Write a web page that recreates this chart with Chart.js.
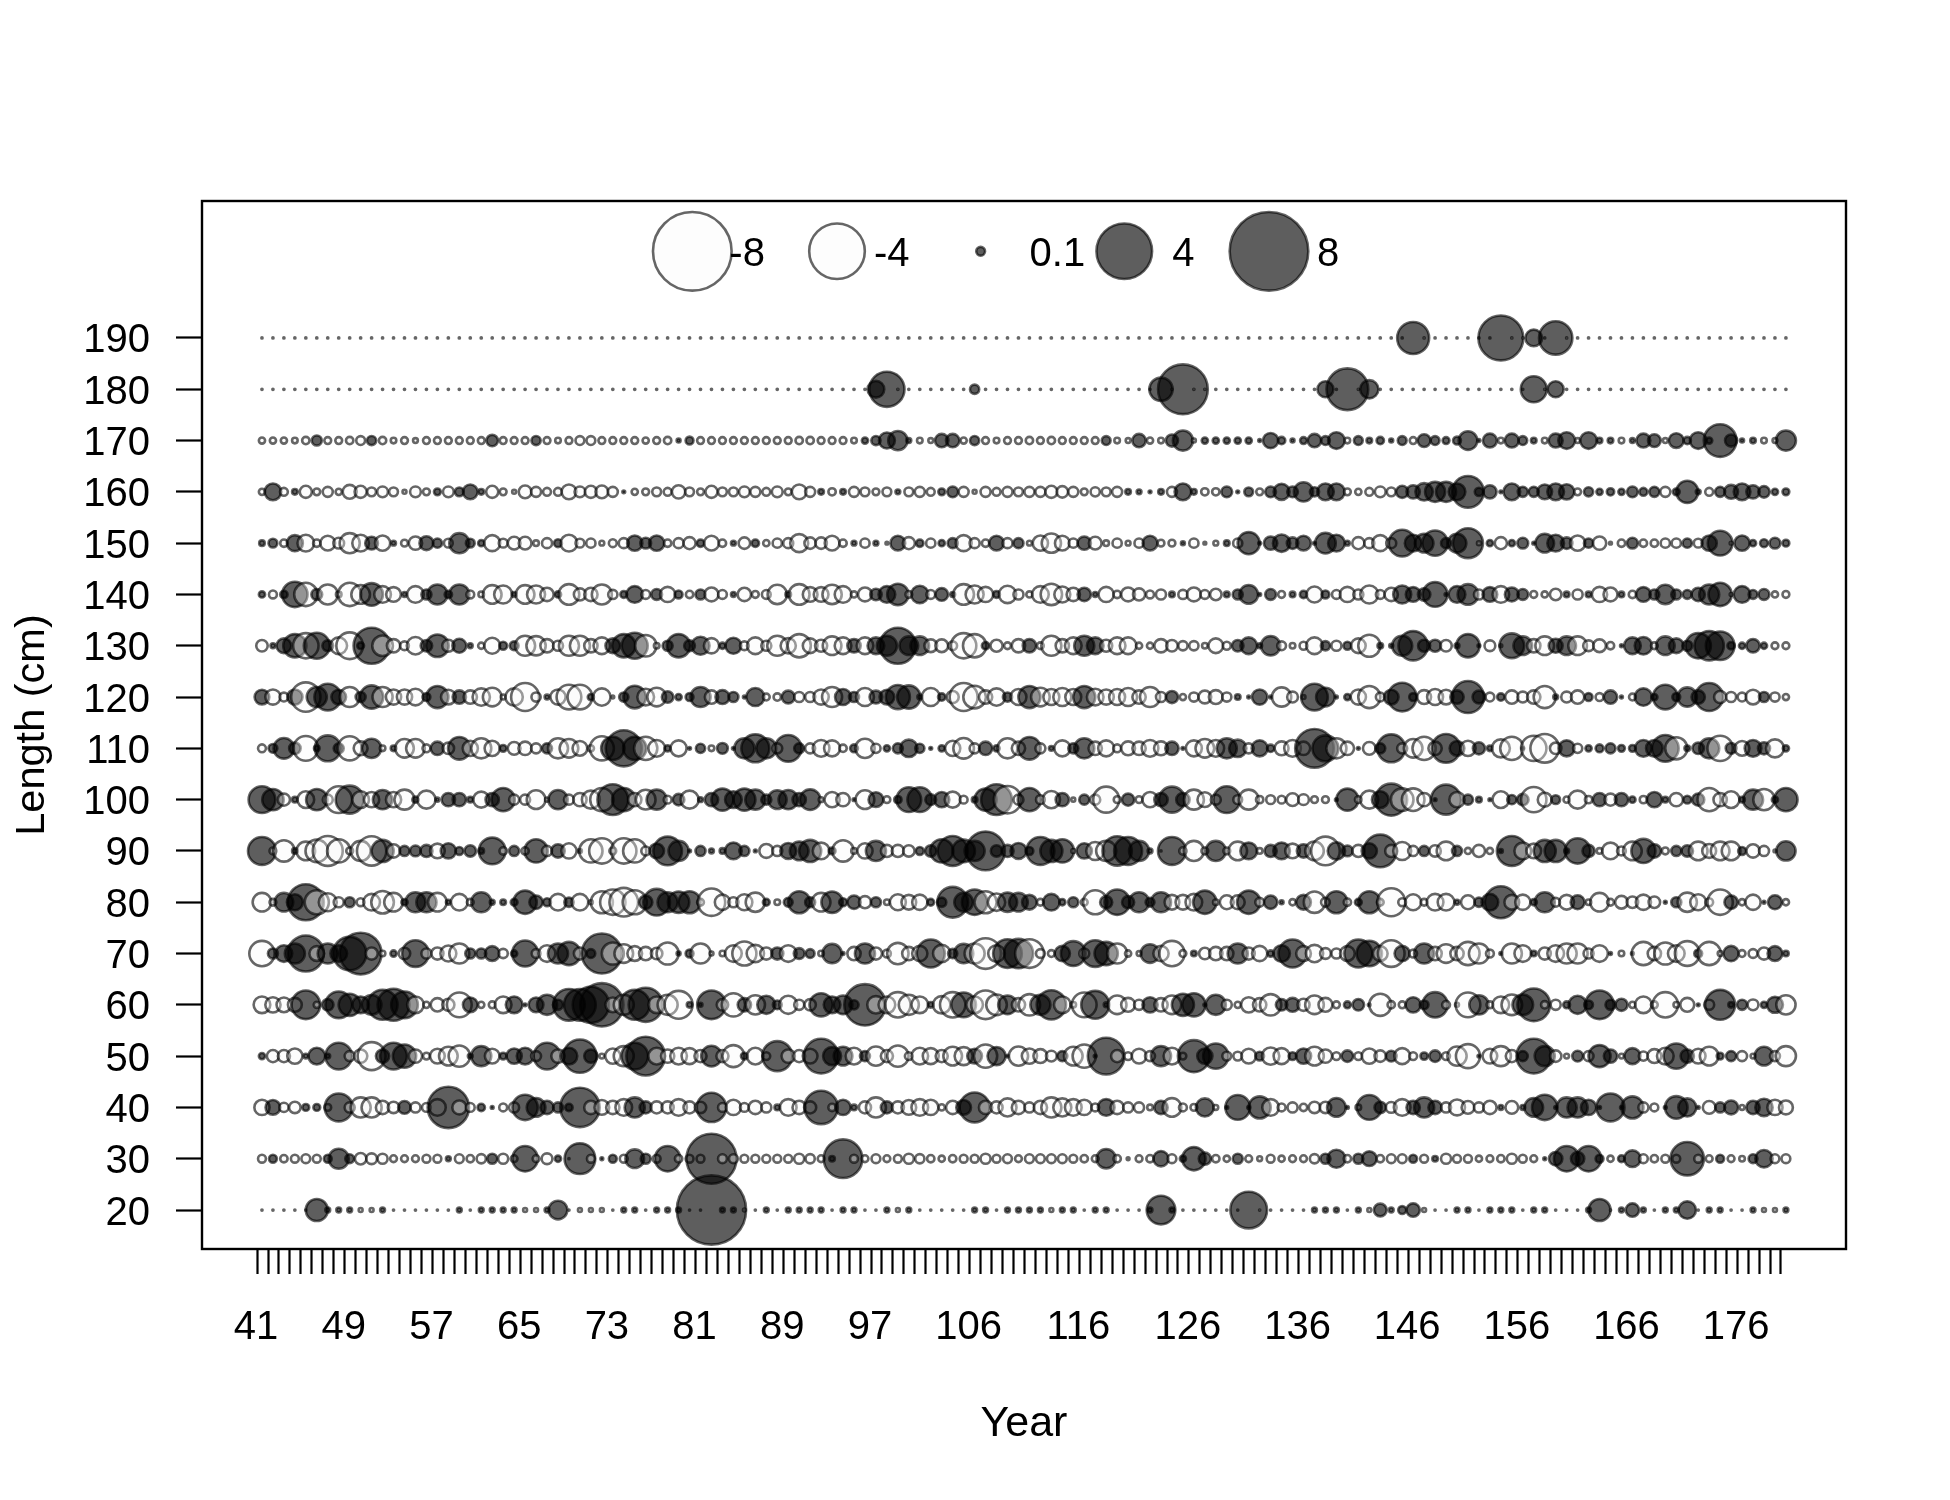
<!DOCTYPE html>
<html>
<head>
<meta charset="utf-8">
<title>Residuals by year and length</title>
<script src="https://cdn.jsdelivr.net/npm/chart.js@4"></script>
<style>
    html, body { margin: 0; padding: 0; background: #fff; }
    canvas { display: block; }
</style>
</head>
<body>
<canvas id="chart" width="1950" height="1500"></canvas>
<script>
const years = [41,42,43,44,45,46,47,48,49,50,51,52,53,54,55,56,57,58,59,60,61,62,63,64,65,66,67,68,69,70,
    71,72,73,74,75,76,77,78,79,80,81,82,83,84,85,86,87,88,89,90,91,92,93,94,95,96,97,98,99,100,
    101,102,103,104,105,106,107,108,109,110,111,112,113,114,115,116,117,118,119,120,121,122,123,124,125,126,127,128,129,130,
    131,132,133,134,135,136,137,138,139,140,141,142,143,144,145,146,147,148,149,150,151,152,153,154,155,156,157,158,159,160,
    161,162,163,164,165,166,167,168,169,170,171,172,173,174,175,176,177,178,179,180];
const yearLabels = [41,49,57,65,73,81,89,97,106,116,126,136,146,156,166,176];
const lengths = [20,30,40,50,60,70,80,90,100,110,120,130,140,150,160,170,180,190];

const len20 = [-.005,-.005,-.005,-.005,-.005,.63,.03,.03,.03,-.02,
    -.02,.03,-.005,-.005,-.005,-.005,-.005,-.005,.03,-.005,
    .03,.03,.03,.03,-.02,-.02,.03,.45,-.005,-.02,
    -.02,-.02,-.005,.03,.03,-.005,.03,.03,.03,-.005,
    -.005,6.2,.03,.03,-.01,-.005,.03,-.005,.03,.03,
    .03,.03,-.005,.03,.03,-.005,-.005,.03,-.02,.03,
    -.005,-.005,-.005,-.005,-.005,.03,.03,-.005,.03,.03,
    .03,.03,-.02,.03,.03,-.005,.03,.03,-.005,-.005,
    -.005,.03,1.06,.03,-.005,-.005,-.005,-.005,-.005,-.005,
    1.74,-.005,-.005,-.005,-.005,-.005,.03,.03,.03,-.005,
    .03,-.02,.21,.03,.08,.23,-.02,-.005,-.005,.03,
    .03,-.005,.03,.03,.03,-.005,.03,.03,-.005,-.005,
    -.005,.03,.63,-.005,.03,.23,.03,-.005,.03,.03,
    .39,-.005,.03,.03,-.005,-.005,.03,-.02,-.02,.03];
const len30 = [-.08,.08,-.07,-.08,-.1,-.08,.08,.52,.1,-.17,
    -.15,-.13,-.06,-.06,-.06,-.08,-.08,.03,-.1,-.07,
    -.11,.13,-.13,-.06,.83,-.06,-.15,.05,-.005,1.22,
    -.08,.01,.08,-.08,.45,.13,-.08,.83,-.07,-.08,
    -.08,3.23,-.1,-.1,-.08,-.08,-.08,-.08,-.08,-.13,
    -.11,-.06,.04,1.93,-.08,-.06,-.1,-.06,-.08,-.13,
    -.11,-.07,-.05,-.07,-.08,-.08,-.13,-.08,-.1,-.06,
    -.1,-.1,-.1,-.1,-.08,-.07,-.06,.48,-.07,-.01,
    -.06,-.07,.3,-.1,.05,.7,.19,-.07,-.05,.13,
    -.06,-.03,-.08,-.05,-.06,-.06,-.11,.13,.42,-.07,
    .13,.28,-.07,-.1,-.1,.08,-.08,.04,-.13,-.08,
    -.08,-.05,-.06,-.07,-.13,-.08,-.06,.01,.23,.83,
    .23,.83,.08,-.05,.06,.36,-.1,-.07,-.08,-.08,
    1.44,-.08,-.06,.08,-.06,-.04,.1,.39,-.1,-.1];
const len40 = [-.3,.28,-.11,-.17,.06,.06,-.06,1.01,-.13,-.52,
    -.52,-.23,-.17,.21,-.13,-.1,-.36,2.21,-.25,-.1,
    .07,.01,-.08,-.13,.83,.45,.23,.13,.07,2.0,
    -.23,-.28,-.23,-.36,.52,.19,-.19,-.19,-.36,-.19,
    -.17,1.11,-.1,-.3,-.1,-.23,-.13,.04,-.36,-.23,
    -.19,1.44,-.07,.3,.04,-.19,-.52,.19,-.19,-.28,
    -.36,-.3,-.05,-.23,.28,1.16,-.23,-.19,-.42,-.23,
    -.13,-.23,-.52,-.42,-.36,-.3,-.08,.36,-.23,-.13,
    -.13,-.04,.23,-.45,-.08,-.06,.42,-.03,.01,.79,
    .01,.63,-.36,-.08,-.13,-.07,-.17,-.17,.45,.01,
    -.04,.79,.17,-.15,-.36,.23,.52,.23,-.13,-.33,
    -.21,-.13,-.23,.03,-.21,.03,.45,.83,.01,.52,
    .52,.3,.01,1.01,.01,.63,-.13,-.08,.01,.66,
    .42,.01,-.21,.13,.25,-.03,.23,.39,-.3,-.25];
const len50 = [.05,-.19,-.19,-.3,.03,.36,.03,.92,-.13,-.23,
    -1.01,.23,.92,.7,-.23,-.06,-.28,-.45,-.59,.03,
    .52,-.28,.06,.3,.36,-.13,.92,-.23,.36,1.44,
    .23,-.03,-.3,-.52,.92,1.93,-.36,-.23,-.36,-.33,
    -.19,.55,-.19,-.63,.06,-.36,-.08,1.16,-.23,-.19,
    -.28,1.55,.42,.45,-.36,.13,-.48,-.19,-.59,-.08,
    -.36,-.33,-.19,-.45,-.42,.28,-.7,.42,.01,-.48,
    -.3,-.25,-.15,.13,-.45,-.7,.01,1.74,-.19,-.08,
    -.28,-.13,.52,-.36,-.06,1.32,.3,.83,-.1,-.1,
    -.28,.1,-.39,-.33,.08,.3,-.45,-.23,-.08,.17,
    -.08,-.3,-.17,.15,-.33,-.08,.07,.17,-.08,-.48,
    -.75,.01,-.28,-.52,-.19,.13,1.55,.52,-.17,-.03,
    .15,-.13,.63,.23,-.03,.33,-.11,-.25,-.36,.83,
    .23,-.28,-.45,.06,.13,-.13,-.03,.45,-.13,-.52];
const len60 = [-.36,-.3,-.28,-.25,1.06,-.05,.17,.92,.63,.36,
    .5,1.16,1.32,.92,-.36,-.05,-.23,-.19,-.79,.28,
    -.05,-.06,-.36,.36,.01,.28,.52,.13,1.3,1.3,
    1.7,2.43,-.28,-.52,1.16,1.5,-.36,-.52,-1.01,.04,
    .02,1.06,-.17,-.7,.23,-.48,.42,.1,-.42,-.13,
    -.17,.7,.36,.45,.11,2.21,-.39,-.36,-.83,-.52,
    -.36,.04,-.39,-.83,.79,-.36,-1.06,-.55,.45,-.23,
    -.59,.52,1.11,-.36,-.04,-.79,1.01,.03,-.45,-.25,
    -.13,.3,-.23,-.45,.63,.7,.01,.52,-.13,-.05,
    -.3,-.23,-.59,.17,.25,-.19,-.45,-.25,-.06,.06,
    .17,.01,-.63,-.07,-.06,.3,.1,.83,-.08,-.02,
    -.79,.48,-.06,-.36,-.55,.55,1.38,-.07,-.13,.06,
    .42,.1,1.06,.13,.19,-.05,-.36,-.06,-.83,-.04,
    -.25,.01,-.13,1.16,.04,.13,-.15,.05,.33,-.48];
const len70 = [-.83,.13,.36,.52,1.68,-.28,.52,.36,1.44,2.25,
    -.19,-.04,.05,-.17,.92,-.13,-.19,-.33,-.52,.13,
    .13,.28,-.11,.05,.87,-.1,-.36,.52,.7,-.19,
    .1,2.07,-.63,-.45,-.28,-.23,-.17,-.63,.02,.08,
    -.52,-.02,-.04,-.36,-.75,-.39,-.19,.19,-.36,.15,
    .1,-.04,.48,.01,-.23,.52,-.19,-.08,-.59,-.23,
    -.3,1.01,-.39,.11,.48,-.52,-1.22,-.36,1.06,1.11,
    -1.06,-.1,-.06,.3,.79,-.13,.92,.7,-.52,-.05,
    -.03,.45,-.3,-.83,-.06,.04,-.17,-.23,-.23,.52,
    -.19,-.3,.05,.36,1.01,-.28,-.39,-.15,-.13,-.28,
    1.01,.83,-.28,-.92,.3,-.08,.52,-.23,-.45,-.23,
    -.7,-.52,-.08,.01,-.52,-.36,.04,-.19,-.36,-.52,
    -.52,-.13,-.36,.01,-.04,.01,-.7,-.23,-.63,-.36,
    -.79,.08,-.7,-.03,.3,-.06,-.1,-.19,.28,.04];
const len80 = [-.45,-.06,.45,.33,1.68,-.75,-.42,-.13,.13,-.08,
    -.36,-.66,-.45,.05,.52,.52,-.45,.03,-.36,-.06,
    .52,.03,.04,.06,.7,.23,.08,-.36,.11,-.36,
    -.02,-.63,-.83,-1.06,-.75,.23,.92,.52,.59,.63,
    -.06,-.97,-.3,-.13,-.33,-.48,.06,-.04,.1,.63,
    .13,-.45,.59,.08,.23,-.19,.13,-.04,-.33,-.28,
    -.3,.06,.11,1.22,.45,.83,-.63,-.39,.48,.45,
    .28,-.06,.36,.05,.13,-.06,-.75,.19,.83,.19,
    .52,.1,.52,-.28,-.28,-.36,.7,-.04,-.25,-.25,
    .7,-.1,.23,.02,-.05,.28,-.59,-.1,.63,-.07,
    .06,.63,-.06,-1.01,-.08,-.33,-.06,-.36,-.36,.03,
    -.25,.11,.36,1.32,-.28,-.3,.05,.52,-.1,-.28,
    .25,-.04,-.45,-.06,-.21,-.17,-.3,-.17,.01,.13,
    -.48,-.33,-.08,-.83,.23,-.05,-.3,.01,.25,-.05];
const len90 = [1.01,-.06,-.59,.04,-.45,-.66,-1.16,-.7,-.06,-.52,
    -1.11,.63,-.23,.13,.15,.19,-.28,.3,.08,.17,
    .04,.92,-.07,.13,-.07,.7,-.13,.23,-.3,.02,
    -.7,-.83,-.06,-.83,-.7,-.1,.28,1.06,.52,.01,
    .13,.03,.04,.36,.13,.01,-.25,-.13,.33,.45,
    .63,-.36,.06,-.59,-.04,-.3,.52,-.19,-.19,-.17,
    .08,.17,.7,1.16,.66,.52,1.93,.17,.19,.33,
    .08,1.01,.63,.7,-.02,.3,-.42,-.52,1.11,1.01,
    .52,.03,-.005,1.01,-.07,-.52,-.06,.52,-.06,-.45,
    .36,-.04,.19,.36,-.28,.23,-.45,-1.06,.39,.15,
    -.19,.3,1.38,-.19,-.42,-.13,.13,-.17,-.45,.13,
    -.05,-.19,-.05,.02,1.16,-.36,-.28,.63,.63,.03,
    .83,.19,-.04,-.36,-.1,-.45,.75,.23,-.06,.13,
    .17,-.45,-.25,-.45,-.45,.08,-.23,-.13,-.01,.48];
const len100 = [.92,.59,-.19,.04,-.36,.59,-.13,-.92,1.01,-.36,
    -.3,.48,-.3,-.52,.05,-.42,.02,.23,.23,.04,
    -.33,.23,.7,-.13,-.13,-.45,-.02,.48,-.13,-.23,
    -.42,-.7,1.22,.7,-.23,-.5,.52,-.08,.17,-.42,
    .03,.23,.63,.36,.63,.52,.13,.45,.48,.23,
    .55,-.03,-.3,-.23,.01,-.45,.28,-.06,.07,.79,
    .79,.15,.3,-.33,-.08,.04,.63,1.22,-.97,-.13,
    .7,-.1,-.39,.23,-.02,.13,-.13,-.87,-.06,.19,
    -.06,-.3,.23,.87,.23,-.52,-.28,-.13,.92,-.1,
    -.52,-.07,-.1,-.08,-.21,-.15,-.06,-.06,.01,.63,
    -.06,-.42,.36,1.32,-.66,-.66,-.23,.01,1.16,-.3,
    .13,.04,.01,-.36,.11,.17,-.83,-.25,.1,-.05,
    -.42,-.07,.23,-.19,.23,.05,-.07,.3,.04,-.23,
    .08,.19,-.7,-.23,-.36,.04,.52,-.59,.05,.7];
const len110 = [-.08,.1,.55,.17,-.79,.04,.87,.13,-.75,-.25,
    .48,-.04,.04,-.45,-.45,-.08,.23,-.17,.66,-.3,
    -.52,-.3,.06,-.21,-.23,-.13,.13,-.52,-.45,-.28,
    -.05,-.75,.7,1.68,.7,-.7,-.36,.05,-.33,.01,
    .11,-.04,.15,.01,.52,1.01,.52,-.13,.92,.13,
    -.13,-.36,-.33,-.07,.08,-.48,-.11,.05,.13,.39,
    .11,.01,.05,-.3,-.55,-.13,.23,.05,-.52,-.23,
    .66,-.13,.03,-.33,.13,.52,-.23,-.33,-.08,-.25,
    -.23,-.36,-.25,.23,.01,-.33,-.45,-.36,.52,.39,
    -.13,.33,.07,-.25,-.36,-.23,1.93,.87,-.52,-.23,
    .01,-.21,.13,1.01,-.13,-.45,-.7,-.23,1.06,.28,
    -.3,.19,.04,-.42,-.7,.01,-.83,-1.06,-.17,.33,
    -.11,.05,.08,.13,.06,.06,.36,.36,.92,-.63,
    .04,.17,.52,-.83,.15,-.28,.36,.19,-.42,.05];
const len120 = [.28,-.3,-.1,.3,-1.11,.52,.92,.28,-.52,.13,
    .7,-.52,-.3,-.3,-.36,.08,.63,-.28,.23,-.23,
    -.39,-.45,-.03,-.39,-1.01,-.11,.03,-.3,-.79,-.79,
    .05,-.39,-.01,.11,.66,-.36,-.45,.17,.05,.08,
    .52,-.23,.25,.13,.01,.42,-.06,-.07,.21,-.13,
    -.13,-.3,-.52,.33,.13,-.42,.21,.28,.75,.7,
    .03,-.42,.07,-.19,-1.01,-.66,-.23,-.39,.11,-.33,
    .63,-.45,-.33,-.42,-.33,.63,-.36,-.3,-.33,-.42,
    -.23,-.52,-.13,.19,-.05,-.11,-.21,-.25,-.11,.04,
    .01,.3,.01,-.48,-.15,-.02,.92,.45,.01,.05,
    -.3,-.63,-.1,.28,1.06,.08,-.25,-.33,-.28,.23,
    1.32,.21,-.1,.07,-.23,-.15,-.23,-.63,.03,-.15,
    -.23,.08,-.08,.23,.01,-.06,.39,.05,.79,.08,
    .48,.23,1.01,-.19,-.13,-.1,-.28,.13,-.11,-.05];
const len130 = [-.17,.03,.28,.7,-.83,.87,.15,-.36,-.92,.06,
    1.68,-.55,-.23,-.1,-.39,.17,.66,-.19,.25,.03,
    -.05,-.33,.08,.1,-.52,-.48,-.23,-.13,-.52,-.52,
    -.23,-.36,.28,.7,.87,-.6,-.04,.13,.7,.15,
    .42,-.3,.05,.33,-.1,-.36,-.13,-.52,-.3,-.7,
    -.28,-.19,-.45,-.36,.23,-.36,.36,.52,1.68,.45,
    .45,-.21,-.21,-.1,-.83,-.7,.07,-.19,-.06,-.23,
    .23,-.06,-.52,-.23,-.36,.52,.36,-.19,-.36,-.36,
    -.05,-.05,-.23,-.17,-.11,-.11,-.04,-.28,-.08,.17,
    .36,.03,.48,-.1,-.04,-.08,-.36,.11,-.13,.08,
    -.28,-.63,.04,.02,.52,1.11,.19,.19,-.17,.03,
    .7,.01,-.15,-.01,.79,.45,-.23,-.45,.25,.45,
    -.45,-.15,-.21,-.07,.01,.36,.39,-.06,.45,.28,
    .13,.83,1.11,1.06,.07,.05,.23,.05,-.06,-.06];
const len140 = [.05,-.08,.07,.83,-.7,.15,-.52,-.04,-.7,-.45,
    .66,-.36,-.28,.03,-.36,.13,.52,.07,.52,-.08,
    -.04,-.45,-.42,.03,-.45,-.42,-.23,.05,-.55,-.19,
    -.23,-.52,-.11,.06,.36,-.1,.15,-.3,.08,-.07,
    .13,-.25,-.1,.03,-.23,-.06,-.1,-.48,.04,-.55,
    -.28,-.28,-.48,-.36,-.05,-.25,.17,.36,.59,-.06,
    .39,-.1,.21,.03,-.55,-.42,-.3,.06,-.39,-.13,
    -.05,-.36,-.59,-.33,-.23,.23,.03,-.3,-.07,-.25,
    -.19,-.08,-.13,.04,-.11,-.25,-.1,-.17,.04,.13,
    .45,.01,.15,-.06,.04,.07,-.33,.08,-.1,-.3,
    -.13,-.42,-.1,-.23,.42,.28,.2,.79,.01,.36,
    .55,-.13,.28,-.36,.25,.15,-.06,-.05,-.17,.04,
    -.13,.04,-.3,-.25,.04,-.07,.28,.13,.48,.13,
    .1,.23,.52,.7,-.01,.36,.1,.15,-.05,-.06];
const len150 = [.04,.1,-.07,.33,-.36,-.07,-.28,-.15,-.52,-.36,
    .21,-.3,.03,-.06,-.23,.25,.11,-.1,.52,.1,
    .05,-.33,-.1,-.21,-.21,-.04,-.13,.08,-.36,-.1,
    -.11,-.03,-.08,-.13,.3,.15,.3,-.07,-.13,-.19,
    .07,-.28,-.07,.03,-.17,.07,-.05,-.11,-.13,-.42,
    -.17,-.17,-.28,-.07,.03,-.11,.03,-.01,.28,-.19,
    .07,-.11,.05,.13,-.33,-.13,-.07,.28,-.13,.13,
    -.03,-.3,-.48,-.28,-.11,.23,-.21,-.04,-.11,-.03,
    -.11,.28,-.06,-.06,.02,-.11,-.01,-.03,.04,-.11,
    .63,.01,.23,.39,.17,.28,.01,.55,.36,.03,
    -.19,-.13,-.33,-.13,.92,.36,.45,.83,.13,.45,
    1.16,-.02,.05,-.19,.05,.15,.01,.45,.36,.17,
    -.3,.11,-.23,-.01,-.07,.15,-.07,-.07,-.11,-.11,
    .11,-.1,.3,.79,-.01,.3,.05,.08,.15,.06];
const len160 = [-.05,.36,-.08,.04,-.19,-.06,-.13,-.05,-.25,-.19,
    -.1,-.15,-.1,-.02,-.15,-.06,.06,-.15,.1,.28,
    .04,-.19,-.06,-.02,-.21,-.13,-.08,-.08,-.28,-.15,
    -.19,-.21,-.13,.01,-.05,-.06,-.1,-.08,-.23,-.1,
    -.06,-.19,-.1,-.1,-.15,-.13,-.08,-.15,-.06,-.28,
    -.13,.04,-.07,.04,-.13,-.1,-.06,-.1,.03,-.1,
    -.13,-.08,.06,.15,-.13,-.02,-.13,-.08,-.13,-.1,
    -.13,-.13,-.19,-.17,-.13,-.06,-.11,-.1,-.13,.04,
    .03,.01,.04,-.13,.36,.04,-.07,-.07,.15,.01,
    .1,-.06,.15,.33,.15,.48,.11,.36,.36,-.06,
    -.05,-.08,-.15,-.1,.19,.23,.39,.52,.52,.36,
    1.3,.09,.23,.01,.36,.13,.13,.28,.36,.3,
    -.06,.11,.05,.07,.05,.15,.08,.13,-.13,.06,
    .63,.03,-.08,.13,.25,.36,.23,.17,.05,.06];
const len170 = [-.05,-.05,-.05,-.04,-.07,.13,-.06,-.06,-.07,-.1,
    .11,-.07,-.04,-.06,-.03,-.06,-.06,-.06,-.06,-.06,
    -.06,.17,-.06,-.06,-.06,.11,-.06,-.04,-.06,-.1,
    -.1,-.06,-.06,-.06,-.06,-.05,-.06,-.07,.02,.08,
    -.06,-.06,-.06,-.06,-.06,-.06,-.06,-.06,-.06,-.07,
    -.07,-.06,-.06,-.06,-.04,.05,.11,.33,.48,.03,
    -.04,-.03,.23,.23,-.05,.11,-.06,-.04,-.06,-.06,
    -.07,-.06,-.07,-.06,-.06,-.06,-.06,.1,-.04,-.03,
    .23,-.05,-.04,.19,.52,-.02,.05,.05,.05,.05,
    .05,.01,.3,.07,.02,.06,.23,.1,.36,-.04,
    .1,.04,.07,.02,.1,-.06,.21,.1,.06,.08,
    .45,.01,.25,-.04,.25,.1,.04,-.04,.25,.36,
    -.03,.36,.04,.04,-.04,.03,.25,.21,-.03,.28,
    .07,.36,.05,1.38,.19,.02,.04,-.04,-.03,.52];
const len180 = [-.005,-.005,-.005,-.005,-.005,-.005,-.005,-.005,-.005,-.005,
    -.005,-.005,-.005,-.005,-.005,-.005,-.005,-.005,-.005,-.005,
    -.005,-.005,-.005,-.005,-.005,-.005,-.005,-.005,-.005,-.005,
    -.005,-.005,-.005,-.005,-.005,-.005,-.005,-.005,-.005,-.005,
    -.005,-.005,-.005,-.005,-.005,-.005,-.005,-.005,-.005,-.005,
    -.005,-.005,-.005,-.005,-.005,-.005,.36,1.6,-.005,-.005,
    -.005,-.005,-.005,-.005,-.005,.11,-.005,-.005,-.005,-.005,
    -.005,-.005,-.005,-.005,-.005,-.005,-.005,-.005,-.005,-.005,
    -.005,-.005,.7,-.005,3.2,-.005,-.005,-.005,-.005,-.005,
    -.005,-.005,-.005,-.005,-.005,-.005,-.005,.33,-.005,2.25,
    -.005,.43,-.005,-.005,-.005,-.005,-.005,-.005,-.005,-.005,
    -.005,-.005,-.005,-.005,-.005,-.005,.87,-.005,.33,-.005,
    -.005,-.005,-.005,-.005,-.005,-.005,-.005,-.005,-.005,-.005,
    -.005,-.005,-.005,-.005,-.005,-.005,-.005,-.005,-.005,-.005];
const len190 = [-.005,-.005,-.005,-.005,-.005,-.005,-.005,-.005,-.005,-.005,
    -.005,-.005,-.005,-.005,-.005,-.005,-.005,-.005,-.005,-.005,
    -.005,-.005,-.005,-.005,-.005,-.005,-.005,-.005,-.005,-.005,
    -.005,-.005,-.005,-.005,-.005,-.005,-.005,-.005,-.005,-.005,
    -.005,-.005,-.005,-.005,-.005,-.005,-.005,-.005,-.005,-.005,
    -.005,-.005,-.005,-.005,-.005,-.005,-.005,-.005,-.005,-.005,
    -.005,-.005,-.005,-.005,-.005,-.005,-.005,-.005,-.005,-.005,
    -.005,-.005,-.005,-.005,-.005,-.005,-.005,-.005,-.005,-.005,
    -.005,-.005,-.005,-.005,-.005,-.005,-.005,-.005,-.005,-.005,
    -.005,-.005,-.005,-.005,-.005,-.005,-.005,-.005,-.005,-.005,
    -.005,-.005,-.005,-.005,-.005,1.32,-.005,-.005,-.005,-.005,
    -.005,-.005,-.005,2.6,-.005,-.005,.36,-.005,1.44,-.005,
    -.005,-.005,-.005,-.005,-.005,-.005,-.005,-.005,-.005,-.005,
    -.005,-.005,-.005,-.005,-.005,-.005,-.005,-.005,-.005,-.005];
const rows = [len20,len30,len40,len50,len60,len70,len80,len90,len100,len110,len120,len130,len140,len150,len160,len170,len180,len190];

const legendValues = [-8,-4,0.1,4,8];
const legendYears = [80.7,93.9,107,120.1,133.3];
const legendTextYears = [85.7,98.9,114,125.5,138.7];
const legendLength = 206.9;

// bubbles sit a little to the right of their year tick
const yearShift = 0.45;
const fontName = "'Liberation Sans', Arial, sans-serif";

function radius(v) {
    return 13.9 * Math.sqrt(Math.abs(v));
}

function bubbleFill(ctx) {
    return ctx.raw && ctx.raw.v < 0 ? "rgba(250,250,250,0.35)" : "rgba(0,0,0,0.63)";
}

// the smallest dots read as single specks, so a thinner outline
function bubbleBorder(ctx) {
    return ctx.raw && Math.abs(ctx.raw.v) < 0.01 ? 1.8 : 2.6;
}

let datasets = [];
rows.forEach((row, r) => {
    datasets.push({
        data: row.map((v, i) => ({x: years[i] + yearShift, y: lengths[r], r: radius(v), v: v})),
        backgroundColor: bubbleFill,
        borderColor: "rgba(0,0,0,0.6)",
        borderWidth: bubbleBorder,
        clip: false
    });
});
datasets.push({
    data: legendValues.map((v, i) => ({x: legendYears[i], y: legendLength, r: radius(v), v: v})),
    backgroundColor: bubbleFill,
    borderColor: "rgba(0,0,0,0.6)",
    borderWidth: 2.6,
    clip: false
});

const framePlugin = {
    id: "frame",
    afterDraw(chart) {
        const c = chart.ctx, a = chart.chartArea;
        c.save();
        c.strokeStyle = "#000";
        c.lineWidth = 2.4;
        c.strokeRect(a.left, a.top, a.right - a.left, a.bottom - a.top);
        c.fillStyle = "#000";
        c.font = "40px " + fontName;
        c.textAlign = "center";
        c.textBaseline = "middle";
        legendValues.forEach((v, i) => {
            c.fillText(String(v), chart.scales.x.getPixelForValue(legendTextYears[i]), chart.scales.y.getPixelForValue(legendLength) + 4);
        });
        c.restore();
    }
};

new Chart(document.querySelector("#chart"), {
    type: "bubble",
    data: {datasets: datasets},
    plugins: [framePlugin],
    options: {
        responsive: false,
        animation: false,
        events: [],
        layout: {padding: {top: 201, right: 104, left: 0, bottom: 0}},
        plugins: {legend: {display: false}, tooltip: {enabled: false}},
        scales: {
            x: {
                type: "linear",
                min: 35.98,
                max: 185.93,
                afterBuildTicks: axis => { axis.ticks = years.map(y => ({value: y})); },
                afterFit: axis => { axis.height = 251; },
                border: {display: false},
                grid: {drawOnChartArea: false, tickLength: 25, tickColor: "#000", tickWidth: 2.2},
                ticks: {
                    autoSkip: false,
                    maxRotation: 0,
                    padding: 30,
                    labelOffset: -1,
                    color: "#000",
                    font: {family: fontName, size: 40},
                    callback: value => yearLabels.includes(value) ? String(value) : ""
                },
                title: {display: true, text: "Year", color: "#000", font: {family: fontName, size: 43}, padding: {top: 0, bottom: 50}}
            },
            y: {
                type: "linear",
                min: 12.4,
                max: 216.7,
                afterBuildTicks: axis => { axis.ticks = lengths.map(l => ({value: l})); },
                afterFit: axis => { axis.width = 202; },
                border: {display: false},
                grid: {drawOnChartArea: false, tickLength: 26, tickColor: "#000", tickWidth: 2.2},
                ticks: {
                    autoSkip: false,
                    padding: 26,
                    labelOffset: 3.5,
                    color: "#000",
                    font: {family: fontName, size: 40}
                },
                title: {display: true, text: "Length (cm)", color: "#000", font: {family: fontName, size: 41.5}, padding: {top: 8, bottom: 0}}
            }
        }
    }
});
</script>
</body>
</html>
